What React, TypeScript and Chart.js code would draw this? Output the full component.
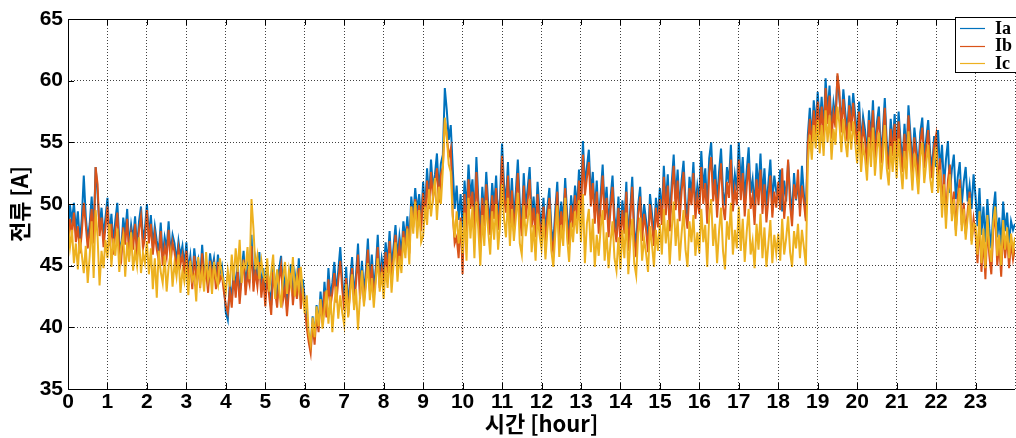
import React, { useEffect, useRef } from 'react';
import { Chart, registerables } from 'chart.js';

Chart.register(...registerables);

// sampling interval of the series (hours)
const STEP_HOURS = 0.05;

const SERIES_NAMES = ['Ia', 'Ib', 'Ic'];
const SERIES_COLORS = ['#0072BD', '#D95319', '#EDB120'];

const X_TICKS = [0, 1, 2, 3, 4, 5, 6, 7, 8, 9, 10, 11, 12, 13, 14, 15, 16, 17, 18, 19, 20, 21, 22, 23];
const Y_TICKS = [35, 40, 45, 50, 55, 60, 65];

// one row per hour (20 samples)
const IA = [
  47.2, 49.9, 48.6, 50.1, 47.8, 49.4, 46.9, 48.8, 52.3, 49.0, 47.1, 48.4, 50.6, 47.5, 53.0, 50.8, 48.1, 49.7, 47.4, 48.9,
  50.5, 47.3, 49.2, 46.8, 48.7, 50.1, 47.0, 46.2, 48.9, 47.6, 49.6, 46.5, 48.3, 47.1, 49.0, 46.4, 48.6, 49.8, 47.2, 48.0,
  50.0, 47.4, 49.1, 46.6, 48.2, 47.0, 46.1, 48.5, 45.7, 47.3, 46.4, 48.6, 45.9, 47.5, 46.8, 45.3, 47.0, 45.8, 46.6, 44.9,
  46.9, 44.6, 45.8, 43.7, 46.4, 44.8, 45.5, 43.9, 46.7, 44.3, 45.2, 43.4, 46.0, 44.7, 45.6, 43.8, 45.9, 44.4, 45.0, 43.5,
  41.2, 40.6, 43.6, 42.1, 44.9, 43.0, 45.3, 42.5, 44.6, 46.2, 43.3, 45.0, 44.2, 47.5, 43.6, 45.4, 44.0, 46.1, 43.2, 44.8,
  42.4, 44.9, 43.1, 41.8, 45.2, 43.6, 42.3, 44.7, 45.8, 42.9, 44.0, 41.6, 43.7, 45.1, 42.5, 44.3, 43.0, 45.6, 42.2, 43.9,
  42.3, 40.6, 39.4, 38.2, 40.9, 39.1, 41.8, 40.2, 42.9, 41.0, 43.7, 41.5, 44.8, 42.4, 43.6, 45.3, 42.8, 44.6, 46.5, 43.9,
  42.1, 44.9, 41.6, 43.8, 45.7, 42.5, 44.3, 46.8, 43.0, 45.4, 42.8, 44.6, 47.2, 43.7, 45.9, 43.1, 44.8, 47.5, 44.0, 45.6,
  44.6, 46.9, 45.2, 47.8, 44.9, 46.5, 48.3, 45.6, 47.4, 46.0, 48.6, 47.1, 49.0, 46.8, 50.6, 48.9, 51.3, 49.4, 50.8, 48.6,
  51.8, 49.6, 52.9, 50.4, 53.6, 51.2, 52.4, 54.1, 50.9, 53.3, 54.0, 59.4, 57.6, 55.2, 56.4, 53.0, 49.6, 51.5, 48.7, 50.8,
  48.1, 51.9, 49.4, 53.2, 50.6, 52.0, 48.8, 53.8, 50.3, 47.9, 51.4, 49.1, 52.6, 50.0, 48.6, 51.7, 49.8, 52.3, 48.9, 50.5,
  54.9, 51.6, 50.2, 53.4, 49.3, 52.1, 48.8, 51.0, 53.6, 50.1, 48.4, 52.5, 49.7, 51.3, 53.0, 49.0, 50.6, 48.3, 51.8, 49.4,
  48.2, 50.5, 47.6, 49.8, 51.3, 48.0, 46.9, 49.5, 51.8, 47.8, 50.2, 48.6, 52.1, 49.2, 47.5, 50.7, 48.9, 51.5, 49.6, 52.8,
  50.1, 55.1, 51.6, 53.0, 54.4, 50.7, 52.6, 49.3, 51.9, 48.5, 50.8, 53.2, 49.6, 51.4, 48.2, 50.5, 52.3, 49.0, 47.8, 50.6,
  47.6, 50.3, 48.4, 51.8, 47.0, 49.6, 52.2, 48.0, 46.5, 49.9, 51.4, 47.8, 50.0, 48.7, 46.9, 50.8, 49.2, 47.4, 50.5, 48.9,
  51.3, 49.2, 53.1, 50.0, 52.4, 48.7, 51.7, 54.0, 50.4, 52.8, 49.5, 51.9, 53.5, 50.2, 48.9, 52.2, 50.8, 53.4, 49.7, 51.5,
  50.4, 54.3, 51.2, 52.9, 49.6, 53.7, 55.0, 51.4, 53.2, 50.1, 52.6, 54.5, 51.0, 49.9, 53.0, 51.7, 54.8, 50.6, 52.4, 51.1,
  55.0, 51.6, 53.8, 50.3, 52.7, 54.6, 50.9, 52.0, 49.6, 53.3, 51.2, 54.1, 50.5, 52.9, 49.8, 51.7, 53.6, 50.2, 52.3, 51.0,
  50.6, 52.8, 49.4, 51.9, 50.2, 53.4, 51.0, 49.1, 52.5, 50.3, 51.7, 49.6, 53.1, 50.8, 48.9, 55.6, 57.8, 55.2, 58.4, 56.3,
  59.1, 56.4, 58.7, 55.8, 60.2, 57.3, 59.6, 56.1, 58.2, 57.0, 60.4, 58.5, 56.6, 59.3, 57.4, 55.9, 58.8, 56.7, 59.0, 57.2,
  55.6, 58.3, 54.8, 57.1, 56.0, 53.9, 57.6, 55.2, 58.4, 54.4, 56.6, 57.9, 54.1, 55.8, 58.6, 55.0, 53.6, 56.9, 54.7, 57.3,
  54.2, 57.5, 55.1, 53.4, 56.5, 54.0, 58.0, 55.6, 53.1, 56.2, 54.6, 52.8, 55.8, 57.0, 53.7, 55.3, 56.8, 54.1, 52.9, 55.5,
  53.0, 56.0, 52.6, 54.8, 51.4, 53.6, 55.1, 50.9, 52.8, 54.0, 50.4, 52.2, 53.4, 49.9, 51.8, 53.0, 50.2, 51.5, 49.6, 52.4,
  50.6, 48.2, 51.3, 47.5, 49.8, 46.9, 50.4, 48.0, 46.4, 49.5, 51.0, 47.3, 48.9, 46.6, 50.2, 47.8, 49.3, 46.8, 48.6, 47.9,
  48.4,
];

const IB = [
  46.6, 48.8, 47.5, 49.3, 46.9, 48.2, 46.0, 47.7, 50.1, 48.3, 46.4, 47.8, 49.6, 46.8, 53.0, 51.6, 47.4, 48.9, 46.5, 48.1,
  49.8, 46.6, 48.4, 45.9, 47.8, 49.3, 46.2, 45.5, 48.1, 46.7, 48.8, 45.8, 47.6, 46.3, 48.4, 45.7, 47.9, 49.0, 46.4, 47.2,
  49.5, 46.8, 48.4, 45.9, 47.6, 46.3, 45.4, 47.8, 45.0, 46.6, 45.7, 47.9, 45.2, 46.9, 46.1, 44.7, 46.4, 45.1, 45.9, 44.3,
  46.2, 44.0, 45.1, 43.1, 45.8, 44.1, 44.9, 43.2, 46.0, 43.7, 44.6, 42.8, 45.4, 44.0, 45.0, 43.1, 45.3, 43.8, 44.3, 42.9,
  41.8, 41.2, 43.0, 41.6, 44.3, 42.4, 44.7, 41.9, 43.9, 45.5, 42.6, 44.3, 43.5, 46.6, 42.9, 44.6, 43.3, 45.3, 42.4, 44.0,
  41.7, 44.2, 42.5, 41.0, 44.5, 42.9, 41.6, 43.9, 45.0, 42.2, 43.2, 40.9, 43.0, 44.4, 41.8, 43.6, 42.3, 44.8, 41.5, 43.2,
  41.6, 40.0, 38.8, 37.9, 40.3, 38.6, 41.1, 39.6, 42.2, 40.4, 42.9, 40.8, 43.9, 41.7, 42.8, 44.4, 42.0, 43.8, 45.4, 43.1,
  41.4, 44.0, 40.9, 43.1, 44.8, 41.8, 43.6, 45.9, 42.3, 44.6, 42.0, 43.8, 46.3, 42.9, 45.1, 42.4, 44.0, 46.5, 43.2, 44.8,
  43.9, 46.1, 44.4, 47.0, 44.1, 45.7, 47.5, 44.8, 46.6, 45.2, 47.8, 46.3, 48.2, 46.0, 49.8, 48.1, 50.4, 48.6, 49.9, 47.8,
  50.9, 48.8, 51.9, 49.6, 52.6, 50.4, 51.5, 52.9, 50.1, 52.4, 53.0, 56.8, 55.6, 53.8, 54.5, 49.2, 46.8, 47.3, 45.6, 48.9,
  44.3, 50.8, 47.6, 52.0, 49.6, 51.0, 46.9, 52.6, 49.4, 46.5, 50.5, 48.2, 51.6, 49.1, 47.5, 50.7, 48.8, 51.3, 47.9, 49.6,
  53.9, 50.5, 49.3, 52.3, 48.4, 51.1, 47.8, 50.0, 52.5, 49.2, 47.4, 51.5, 48.8, 50.3, 52.0, 48.1, 49.7, 47.3, 50.8, 48.5,
  47.5, 49.8, 46.8, 49.0, 50.5, 47.2, 46.1, 48.7, 51.0, 47.0, 49.4, 47.8, 51.3, 48.4, 46.7, 49.9, 48.1, 50.7, 48.8, 51.9,
  49.2, 54.0, 50.7, 52.1, 53.4, 49.8, 51.7, 48.4, 51.0, 47.6, 49.9, 52.3, 48.7, 50.5, 47.3, 49.6, 51.4, 48.1, 46.9, 49.7,
  46.8, 49.5, 47.6, 51.0, 46.2, 48.8, 51.4, 47.2, 45.7, 49.1, 50.6, 47.0, 49.2, 47.9, 46.1, 50.0, 48.4, 46.6, 49.7, 48.1,
  50.4, 48.3, 52.2, 49.1, 51.5, 47.8, 50.8, 53.1, 49.5, 51.9, 48.6, 51.0, 52.6, 49.3, 48.0, 51.3, 49.9, 52.5, 48.8, 50.6,
  49.2, 53.0, 50.0, 51.7, 48.4, 52.5, 53.8, 50.2, 52.0, 48.9, 51.4, 53.3, 49.8, 48.7, 51.8, 50.5, 53.6, 49.4, 51.2, 49.9,
  53.6, 50.3, 52.5, 49.0, 51.4, 53.3, 49.6, 50.7, 48.3, 52.0, 49.9, 52.8, 49.2, 51.6, 48.5, 50.4, 52.3, 48.9, 51.0, 49.7,
  51.8, 49.5, 52.9, 48.8, 50.7, 53.6, 49.9, 48.2, 51.6, 50.4, 52.8, 49.0, 51.5, 50.1, 48.6, 54.8, 56.9, 54.5, 57.6, 55.4,
  58.3, 55.6, 57.9, 55.0, 59.4, 56.5, 58.8, 55.3, 57.4, 56.2, 60.6, 59.1, 55.8, 58.5, 56.6, 55.1, 58.0, 55.9, 58.2, 56.4,
  54.8, 57.5, 54.0, 56.3, 55.2, 53.1, 56.8, 54.4, 57.6, 53.6, 55.8, 57.1, 53.3, 55.0, 57.8, 54.2, 52.8, 56.1, 53.9, 56.5,
  53.4, 56.7, 54.3, 52.6, 55.7, 53.2, 57.2, 54.8, 52.3, 55.4, 53.8, 52.0, 55.0, 56.2, 52.9, 54.5, 56.0, 53.3, 52.1, 54.7,
  55.6, 51.6, 53.7, 49.8, 52.4, 48.9, 51.9, 53.2, 49.2, 51.0, 47.9, 50.6, 52.0, 48.3, 50.1, 47.6, 49.4, 51.0, 47.0, 48.8,
  47.6, 45.2, 48.7, 44.5, 47.3, 43.9, 48.2, 45.8, 44.3, 47.9, 49.3, 45.0, 46.8, 44.1, 48.0, 45.6, 47.4, 44.8, 46.9, 45.5,
  46.4,
];

const IC = [
  48.3, 46.5, 47.9, 45.2, 46.8, 44.7, 47.2, 45.9, 44.4, 46.6, 43.6, 45.8, 48.6, 44.0, 49.5, 47.3, 43.4, 46.2, 44.8, 47.1,
  45.6, 48.4, 44.9, 47.2, 45.8, 48.0, 44.5, 46.6, 47.4, 44.1, 46.9, 45.3, 47.7, 44.6, 46.2, 45.0, 47.3, 44.4, 46.0, 45.2,
  47.0, 44.3, 46.4, 43.1, 45.6, 42.4, 46.2, 44.5, 43.6, 45.8, 42.9, 44.9, 46.0, 43.3, 45.2, 44.1, 45.9, 42.8, 44.6, 43.7,
  44.9, 42.6, 45.4, 43.8, 44.2, 42.1, 45.7, 43.5, 44.6, 42.9, 46.1, 43.9, 44.8, 42.7, 45.3, 44.0, 43.4, 45.6, 44.3, 43.6,
  42.9, 44.6, 43.3, 45.9, 43.8, 46.4, 44.5, 47.1, 43.6, 45.2, 44.8, 46.5, 43.9, 50.4, 48.0, 44.7, 45.8, 43.9, 45.4, 44.2,
  43.8, 45.6, 42.9, 44.5, 45.9, 42.3, 44.7, 43.1, 41.6, 44.0, 45.3, 42.7, 44.6, 43.4, 45.7, 42.5, 44.2, 43.0, 44.9, 42.8,
  41.1, 42.6, 39.5, 38.6, 40.8, 39.2, 41.7, 40.1, 42.3, 39.9, 41.4, 43.0, 40.3, 42.5, 39.6, 41.9, 43.3, 40.7, 42.6, 41.2,
  40.2, 43.5, 40.8, 42.7, 44.3, 41.4, 43.1, 39.8, 42.5, 44.6, 41.7, 43.4, 45.2, 42.2, 44.0, 41.6, 43.8, 45.6, 42.9, 44.5,
  42.3, 44.9, 43.2, 46.0, 42.8, 45.1, 46.9, 43.7, 45.8, 44.4, 47.3, 45.6, 48.0, 45.1, 49.8, 47.6, 50.2, 47.2, 49.5, 46.9,
  47.4, 49.8, 48.3, 51.2, 49.0, 50.6, 52.1, 48.7, 51.4, 50.0, 52.8, 57.0, 55.4, 53.2, 52.6, 49.0, 47.3, 49.4, 46.8, 48.6,
  46.0, 49.3, 45.4, 50.5, 47.2, 49.8, 45.6, 50.2, 47.9, 45.0, 49.1, 46.6, 50.3, 47.8, 45.9, 49.4, 47.1, 50.0, 46.3, 48.4,
  51.6, 48.8, 47.3, 50.5, 46.6, 49.6, 47.0, 48.9, 50.9, 46.8, 45.9, 49.9, 47.4, 48.7, 50.4, 46.1, 48.3, 45.4, 49.2, 47.5,
  46.4, 48.8, 45.5, 47.9, 49.6, 46.2, 44.9, 47.6, 49.9, 45.7, 48.3, 46.6, 50.5, 47.2, 45.3, 48.5, 46.9, 49.4, 47.6, 50.3,
  46.9, 50.8, 45.2, 48.4, 49.6, 46.1, 48.8, 44.9, 47.5, 45.8, 48.1, 49.5, 45.4, 47.7, 44.8, 46.9, 48.6, 45.6, 44.6, 47.3,
  44.7, 47.9, 45.6, 49.3, 44.3, 46.9, 48.8, 45.2, 44.2, 47.6, 48.9, 45.4, 47.2, 46.0, 44.5, 48.2, 46.7, 44.9, 47.9, 46.2,
  48.4, 45.9, 49.6, 46.8, 48.7, 45.1, 47.9, 50.2, 46.6, 48.8, 45.4, 47.6, 49.5, 46.3, 44.9, 48.6, 46.9, 49.1, 45.8, 47.7,
  46.0, 49.6, 46.9, 48.3, 44.9, 49.0, 50.4, 46.6, 48.4, 45.2, 47.8, 49.7, 46.2, 44.7, 48.6, 47.1, 50.1, 45.9, 47.9, 46.4,
  49.8, 46.2, 48.8, 45.3, 47.7, 49.6, 45.9, 47.0, 44.8, 48.4, 46.3, 49.2, 45.6, 48.1, 44.9, 46.8, 48.7, 45.2, 47.5, 46.0,
  47.6, 45.4, 48.8, 45.9, 47.2, 49.0, 46.1, 44.9, 47.8, 46.4, 48.4, 45.6, 47.9, 46.5, 45.0, 53.3, 55.6, 53.6, 56.4, 54.5,
  56.8, 54.1, 56.4, 53.9, 57.6, 55.0, 57.2, 53.6, 56.1, 54.8, 57.9, 56.5, 54.2, 56.9, 55.1, 53.8, 56.6, 54.4, 56.7, 55.0,
  53.3, 55.9, 52.6, 54.8, 53.7, 51.9, 55.4, 53.0, 56.2, 52.3, 54.4, 55.8, 52.0, 53.6, 56.4, 52.9, 51.5, 54.7, 52.6, 55.1,
  52.1, 55.3, 53.0, 51.2, 54.3, 52.0, 55.9, 53.6, 51.1, 54.1, 52.6, 50.8, 53.8, 55.0, 51.7, 53.3, 54.8, 52.1, 50.9, 53.5,
  54.6, 50.9, 52.8, 48.9, 51.6, 48.0, 51.0, 52.4, 48.6, 50.4, 47.4, 49.9, 51.3, 47.8, 49.6, 47.1, 48.9, 50.5, 46.7, 48.4,
  48.2, 45.9, 49.4, 45.2, 48.0, 44.8, 49.1, 46.5, 45.3, 48.6, 49.8, 45.8, 47.5, 45.0, 48.7, 46.3, 48.1, 45.6, 47.6, 46.2,
  47.3,
];

const SERIES_VALUES = [IA, IB, IC];

const TICK_FONT = { family: '"Liberation Sans", Arial, sans-serif', size: 21, weight: 'bold' as const };
const TITLE_FONT = { family: '"Noto Sans CJK KR", "Liberation Sans", sans-serif', size: 22, weight: 'bold' as const };

const framePlugin = {
  id: 'frameAndLegend',
  afterDraw(chart: any) {
    const { ctx, chartArea } = chart;
    const { left, right, top, bottom } = chartArea;
    const xs = chart.scales.x;
    const ys = chart.scales.y;
    ctx.save();
    ctx.strokeStyle = '#000';
    ctx.lineWidth = 1;
    ctx.setLineDash([]);
    ctx.beginPath();
    ctx.moveTo(Math.round(left) + 0.5, top);
    ctx.lineTo(Math.round(left) + 0.5, bottom);
    ctx.moveTo(left, Math.round(bottom) + 0.5);
    ctx.lineTo(right, Math.round(bottom) + 0.5);
    ctx.moveTo(left, Math.round(top) + 0.5);
    ctx.lineTo(right, Math.round(top) + 0.5);
    ctx.stroke();
    // inward ticks
    ctx.beginPath();
    X_TICKS.forEach((t) => {
      const px = Math.round(xs.getPixelForValue(t)) + 0.5;
      ctx.moveTo(px, bottom);
      ctx.lineTo(px, bottom - 6);
      ctx.moveTo(px, top);
      ctx.lineTo(px, top + 6);
    });
    Y_TICKS.forEach((t) => {
      const py = Math.round(ys.getPixelForValue(t)) + 0.5;
      ctx.moveTo(left, py);
      ctx.lineTo(left + 6, py);
    });
    ctx.stroke();

    // legend box (top right, runs past the canvas edge)
    const bx = 955.5;
    const by = 17.5;
    const bw = 80;
    const bh = 55;
    ctx.fillStyle = '#fff';
    ctx.fillRect(bx, by, bw, bh);
    ctx.strokeStyle = '#000';
    ctx.strokeRect(bx, by, bw, bh);
    ctx.font = 'bold 18px "Liberation Serif", "Times New Roman", serif';
    ctx.textBaseline = 'middle';
    ctx.textAlign = 'left';
    SERIES_NAMES.forEach((name, i) => {
      const y = 28 + i * 17.5;
      ctx.strokeStyle = SERIES_COLORS[i];
      ctx.lineWidth = 1.2;
      ctx.beginPath();
      ctx.moveTo(960, Math.round(y) + 0.5);
      ctx.lineTo(985, Math.round(y) + 0.5);
      ctx.stroke();
      ctx.fillStyle = '#000';
      ctx.fillText(name, 995, y + 1);
    });
    ctx.restore();
  },
};

export default function App() {
  const canvasRef = useRef<HTMLCanvasElement | null>(null);

  useEffect(() => {
    document.body.style.margin = '0';
    const canvas = canvasRef.current;
    if (!canvas) return;

    const datasets = SERIES_VALUES.map((vals, si) => ({
      label: SERIES_NAMES[si],
      data: vals.map((v, i) => ({ x: +(i * STEP_HOURS).toFixed(3), y: v })),
      borderColor: SERIES_COLORS[si],
      backgroundColor: SERIES_COLORS[si],
      borderWidth: 2,
      pointRadius: 0,
      tension: 0,
      fill: false,
      order: 3 - si,
    }));

    const chart = new Chart(canvas, {
      type: 'line',
      data: { datasets },
      plugins: [framePlugin],
      options: {
        animation: false,
        responsive: false,
        devicePixelRatio: 1,
        layout: { padding: { top: 19, right: 0, left: 0, bottom: 0 }, autoPadding: false },
        plugins: {
          legend: { display: false },
          tooltip: { enabled: false },
        },
        scales: {
          x: {
            type: 'linear',
            min: 0,
            max: 24,
            afterFit: (scale: any) => {
              scale.height = 49;
            },
            afterBuildTicks: (scale: any) => {
              scale.ticks = X_TICKS.concat([24]).map((v) => ({ value: v }));
            },
            ticks: {
              autoSkip: false,
              maxRotation: 0,
              minRotation: 0,
              padding: 1,
              color: '#000',
              font: TICK_FONT,
              callback: (v: any) => (v === 24 ? '' : String(v)),
            },
            grid: {
              color: 'rgba(0,0,0,0.75)',
              lineWidth: 1,
              drawTicks: false,
              z: 1,
            },
            border: { display: false, dash: [1, 2] },
            title: {
              display: true,
              text: '시간 [hour]',
              color: '#000',
              font: TITLE_FONT,
              padding: { top: 0, bottom: 1 },
            },
          },
          y: {
            type: 'linear',
            min: 35,
            max: 65,
            afterFit: (scale: any) => {
              scale.width = 68;
            },
            afterBuildTicks: (scale: any) => {
              scale.ticks = Y_TICKS.map((v) => ({ value: v }));
            },
            ticks: {
              padding: 5,
              color: '#000',
              font: TICK_FONT,
            },
            grid: {
              color: 'rgba(0,0,0,0.75)',
              lineWidth: 1,
              drawTicks: false,
              z: 1,
            },
            border: { display: false, dash: [1, 2] },
            title: {
              display: true,
              text: '전류 [A]',
              color: '#000',
              font: TITLE_FONT,
              padding: { top: 6, bottom: 0 },
            },
          },
        },
      },
    });

    return () => chart.destroy();
  }, []);

  return (
    <div style={{ position: 'absolute', left: 0, top: 0, width: 1016, height: 438 }}>
      <canvas ref={canvasRef} width={1016} height={438} />
    </div>
  );
}
